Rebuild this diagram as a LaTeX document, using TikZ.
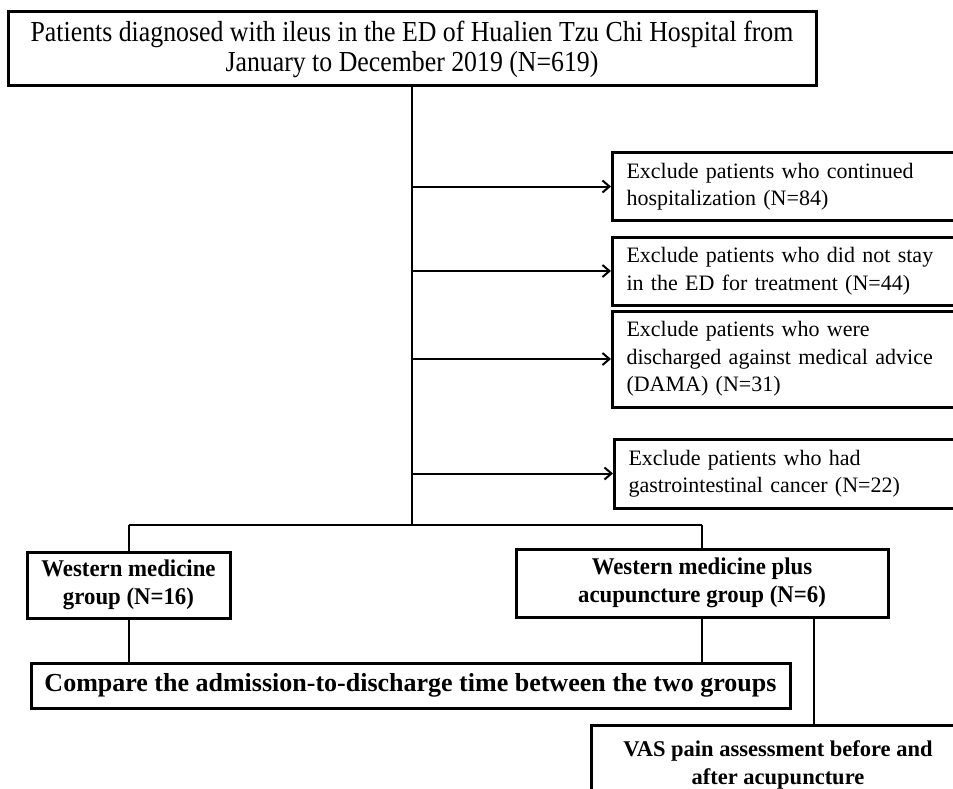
\documentclass[tikz,border=0pt]{standalone}
\usepackage{fontspec}
\setmainfont{Liberation Serif}
\newfontfamily\condf{Liberation Serif}[FakeStretch=0.89]
\newfontfamily\condbf{Liberation Serif Bold}[FakeStretch=0.95]
\usetikzlibrary{arrows.meta}
\tikzset{
  box/.style={draw=black, line width=3pt, fill=white, inner sep=0pt},
  exbox/.style={box, anchor=west, align=left, text width=330pt, inner xsep=14pt,
     font=\fontsize{22}{27.5}\selectfont},
  grpbox/.style={box, align=center, font=\condbf\fontsize{24}{28.5}\selectfont},
  conn/.style={line width=2pt, draw=black},
  arr/.style={conn, -{Straight Barb[length=7pt,width=12pt]}},
}
\begin{document}
\begin{tikzpicture}[x=1pt,y=-1pt]
\useasboundingbox (0,0) rectangle (953,789);
\clip (0,0) rectangle (953,789);
\fill[white] (0,0) rectangle (953,789);

\node[box, minimum width=808pt, minimum height=74pt, align=center,
  font=\condf\fontsize{29}{30}\selectfont] (main) at (412,49)
  {Patients diagnosed with ileus in the ED of Hualien Tzu Chi Hospital from\\January to December 2019 (N=619)};

\node[exbox, minimum height=67pt] (ex1) at (611,186.5)
  {Exclude patients who continued\\hospitalization (N=84)};
\node[exbox, minimum height=68pt] (ex2) at (611,271)
  {Exclude patients who did not stay\\in the ED for treatment (N=44)};
\node[exbox, minimum height=96pt] (ex3) at (611,359)
  {Exclude patients who were\\discharged against medical advice\\(DAMA) (N=31)};
\node[exbox, minimum height=69pt] (ex4) at (613,473.5)
  {Exclude patients who had\\gastrointestinal cancer (N=22)};

\node[grpbox, minimum width=203pt, minimum height=66pt] (lg) at (128.5,585)
  {Western medicine\\group (N=16)};
\node[grpbox, minimum width=372pt, minimum height=68pt] (rg) at (702,583)
  {Western medicine plus\\acupuncture group (N=6)};

\node[box, minimum width=759pt, minimum height=45pt,
  font=\bfseries\fontsize{26}{30}\selectfont] (cmp) at (410.5,685.5)
  {Compare the admission-to-discharge time between the two groups};

\node[box, minimum width=374pt, minimum height=80pt, align=center,
  font=\bfseries\fontsize{22.5}{28}\selectfont] (vas) at (778,765)
  {VAS pain assessment before and\\after acupuncture};

\coordinate (j) at (411,525);
\draw[conn] (main.south) -- (main.south |- j);
\draw[arr] (main.south |- ex1.west) -- (ex1.west);
\draw[arr] (main.south |- ex2.west) -- (ex2.west);
\draw[arr] (main.south |- ex3.west) -- (ex3.west);
\draw[arr] (main.south |- ex4.west) -- (ex4.west);
\draw[conn] (lg.north |- j) -- (rg.north |- j);
\draw[conn] (lg.north |- j) -- (lg.north);
\draw[conn] (rg.north |- j) -- (rg.north);
\draw[conn] (lg.south) -- (lg.south |- cmp.north);
\draw[conn] (rg.south) -- (rg.south |- cmp.north);
\coordinate (rg2) at ([xshift=112pt]rg.south);
\draw[conn] (rg2) -- (rg2 |- vas.north);
\end{tikzpicture}
\end{document}
